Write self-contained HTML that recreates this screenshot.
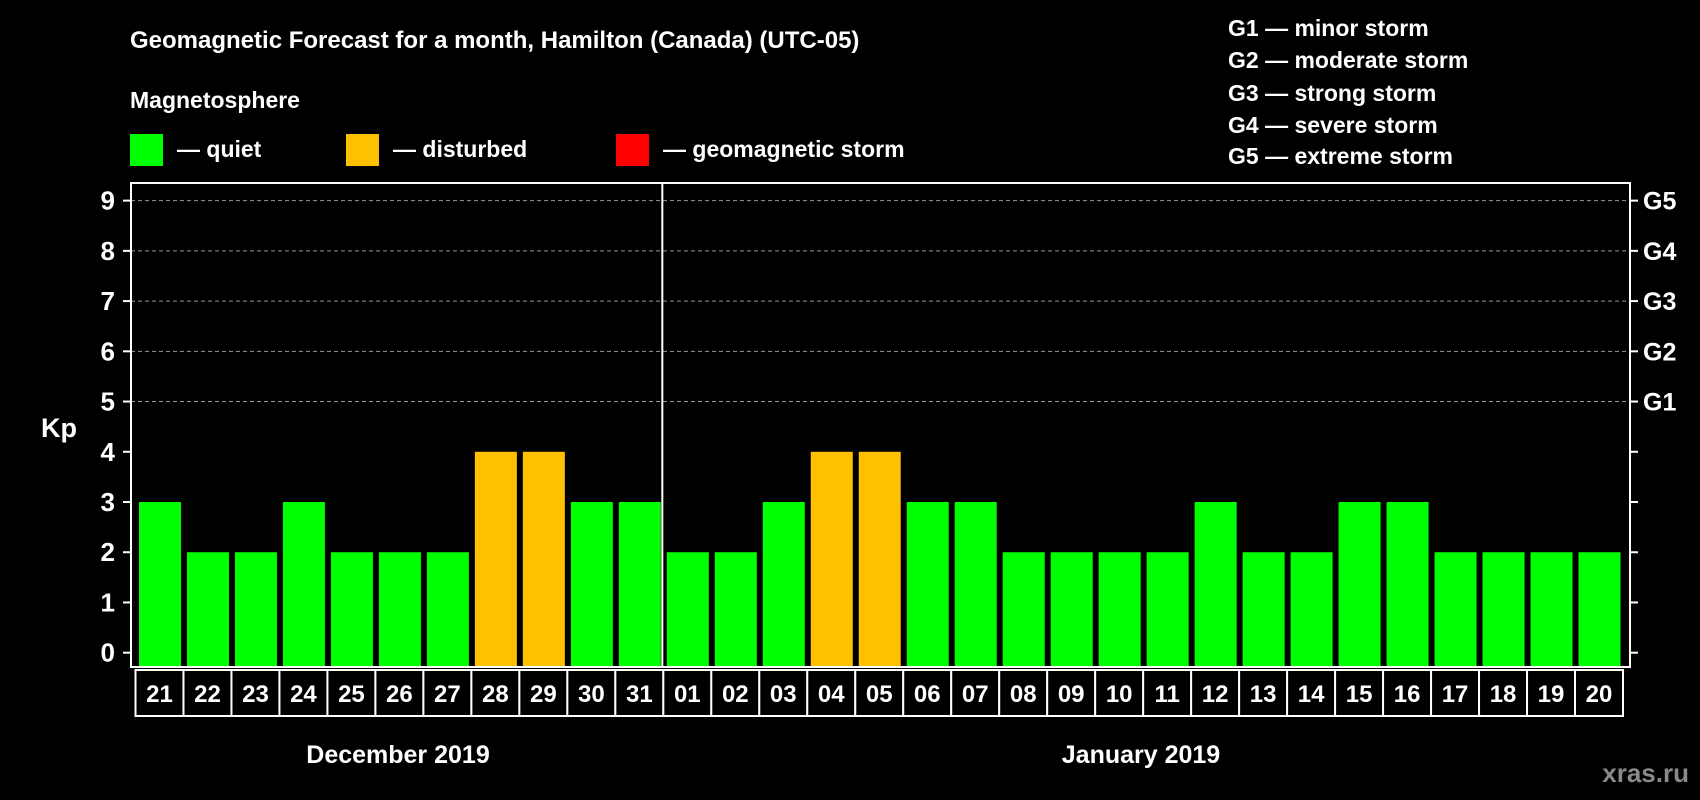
<!DOCTYPE html>
<html><head><meta charset="utf-8">
<style>
html,body{margin:0;padding:0;background:#000;}
svg{display:block;font-family:"Liberation Sans",Arial,sans-serif;font-weight:bold;}
</style></head>
<body>
<svg id="chart" width="1700" height="800" viewBox="0 0 1700 800" xmlns="http://www.w3.org/2000/svg">
<rect width="1700" height="800" fill="#000"/>
<text x="130" y="48" fill="#fff" font-size="24">Geomagnetic Forecast for a month, Hamilton (Canada) (UTC-05)</text>
<text x="130" y="108" fill="#fff" font-size="23">Magnetosphere</text>
<g><rect x="130" y="134" width="33" height="32" fill="#00ff00"/><text x="177" y="157" fill="#fff" font-size="23">— quiet</text></g>
<g><rect x="346" y="134" width="33" height="32" fill="#ffc000"/><text x="393" y="157" fill="#fff" font-size="23">— disturbed</text></g>
<g><rect x="616" y="134" width="33" height="32" fill="#ff0000"/><text x="663" y="157" fill="#fff" font-size="23">— geomagnetic storm</text></g>
<g fill="#fff" font-size="23">
<text x="1228" y="36">G1 — minor storm</text>
<text x="1228" y="68">G2 — moderate storm</text>
<text x="1228" y="101">G3 — strong storm</text>
<text x="1228" y="133">G4 — severe storm</text>
<text x="1228" y="164">G5 — extreme storm</text>
</g>
<text x="41" y="437" fill="#fff" font-size="27">Kp</text>
<g id="grid"></g>
<g id="bars"></g>
<g id="axes"></g>
<g id="dates"></g>
<text x="398" y="763" fill="#fff" font-size="25" text-anchor="middle">December 2019</text>
<text x="1141" y="763" fill="#fff" font-size="25" text-anchor="middle">January 2019</text>
<text x="1689" y="782" fill="#8a8a8a" font-size="26" text-anchor="end">xras.ru</text>
</svg>
<script>
const days = ["21","22","23","24","25","26","27","28","29","30","31","01","02","03","04","05","06","07","08","09","10","11","12","13","14","15","16","17","18","19","20"];
const kpValues = [3,2,2,3,2,2,2,4,4,3,3,2,2,3,4,4,3,3,2,2,2,2,3,2,2,3,3,2,2,2,2];
const yTicks = [0,1,2,3,4,5,6,7,8,9];
const gLabels = ["G1","G2","G3","G4","G5"];
const gLevels = [5,6,7,8,9];
const monthSplitIndex = 11;

const NS = "http://www.w3.org/2000/svg";
const plotL = 131, plotR = 1630, plotT = 183, plotB = 667;
const slotStart = 135.5, slotW = (1623 - 135.5) / days.length;
function yScale(v){ return 652.7 - v * 50.23; }
function xScale(i){ return slotStart + i * slotW; }
function mk(tag, attrs, parent){
  const el = document.createElementNS(NS, tag);
  for (const k in attrs) el.setAttribute(k, attrs[k]);
  parent.appendChild(el);
  return el;
}
const grid = document.getElementById('grid');
const bars = document.getElementById('bars');
const axes = document.getElementById('axes');
const dates = document.getElementById('dates');

yTicks.forEach(v => {
  const y = yScale(v);
  if (v >= 5) {
    const g = mk('line', {x1: plotL, x2: plotR, y1: y, y2: y, stroke: '#999', 'stroke-width': 1, 'stroke-dasharray': '4,3'}, grid);
    
    
  }
  const t = mk('line', {x1: plotL - 8, x2: plotL, y1: y, y2: y, stroke: '#fff', 'stroke-width': 2}, axes);
  
  
  const tr = mk('line', {x1: plotR, x2: plotR + 8, y1: y, y2: y, stroke: '#fff', 'stroke-width': 2}, axes);
  
  
  const lbl = mk('text', {x: 115, y: y + 9, fill: '#fff', 'font-size': 26, 'text-anchor': 'end'}, axes);
  lbl.textContent = v;
  
  
});
gLabels.forEach((g, i) => {
  const t = mk('text', {x: 1643, y: yScale(gLevels[i]) + 9, fill: '#fff', 'font-size': 25}, axes);
  t.textContent = g;
  
  
});

kpValues.forEach((v, i) => {
  const color = v >= 5 ? '#ff0000' : (v >= 4 ? '#ffc000' : '#00ff00');
  const x = xScale(i) + 3.5;
  const top = yScale(v);
  const b = mk('rect', {x: x, y: top, width: slotW - 6, height: plotB - 1 - top, fill: color}, bars);
  
  
});

const frame = mk('rect', {x: plotL, y: plotT, width: plotR - plotL, height: plotB - plotT, fill: 'none', stroke: '#fff', 'stroke-width': 2}, axes);


const splitX = xScale(monthSplitIndex) - 1;
const sep = mk('line', {x1: splitX, x2: splitX, y1: plotT, y2: plotB, stroke: '#fff', 'stroke-width': 2}, axes);



days.forEach((d, i) => {
  const x = xScale(i);
  const box = mk('rect', {x: x, y: 670, width: slotW, height: 46, fill: '#000', stroke: '#fff', 'stroke-width': 2}, dates);
  
  
  const t = mk('text', {x: x + slotW / 2, y: 702, fill: '#fff', 'font-size': 24, 'text-anchor': 'middle'}, dates);
  t.textContent = d;
  
  
});
</script>
</body></html>
